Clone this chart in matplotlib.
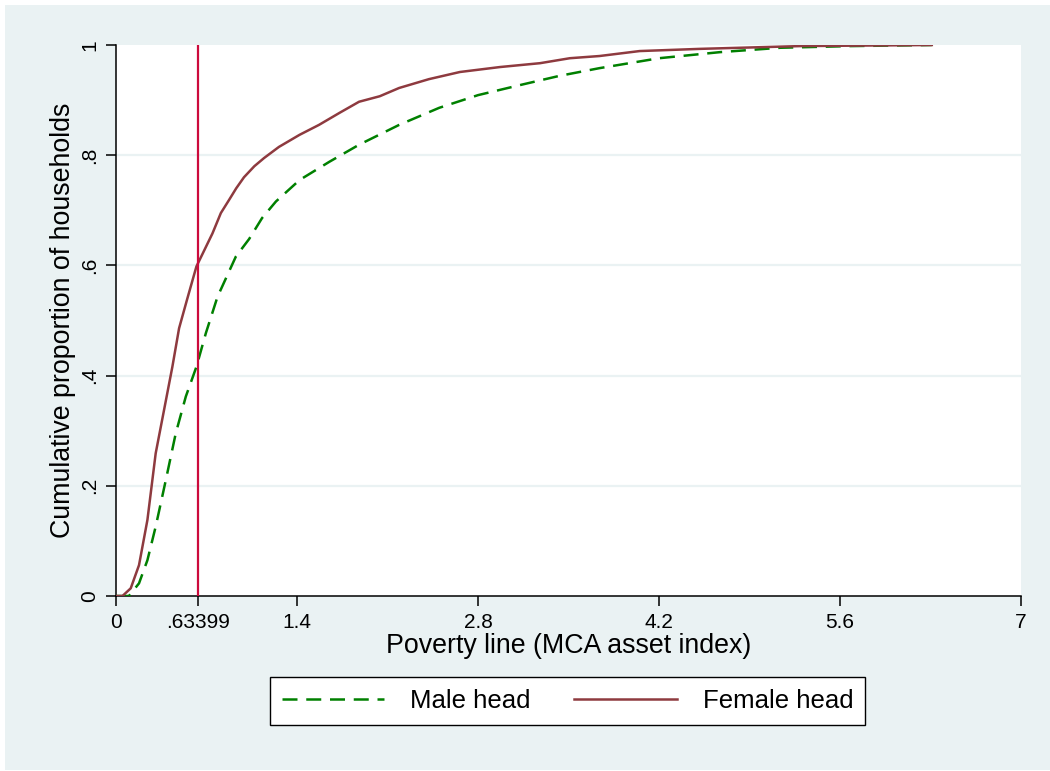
import numpy as np
import matplotlib.pyplot as plt
from matplotlib.patches import Rectangle

plt.rcParams['font.family'] = ['Liberation Sans', 'DejaVu Sans']

# cumulative distribution
female_x = [0.0, 0.05, 0.114, 0.178, 0.243, 0.307, 0.372, 0.436, 0.488, 0.552, 0.622,
            0.746, 0.811, 0.875, 0.93, 0.99, 1.07, 1.146, 1.26, 1.42, 1.57, 1.73, 1.88,
            2.04, 2.19, 2.42, 2.66, 2.97, 3.28, 3.51, 3.74, 4.05, 4.52, 5.29, 6.31]
female_y = [0.0, 0.0, 0.014, 0.056, 0.138, 0.259, 0.338, 0.416, 0.486, 0.540, 0.598,
            0.658, 0.695, 0.719, 0.740, 0.760, 0.780, 0.795, 0.815, 0.837, 0.855, 0.877,
            0.897, 0.907, 0.922, 0.938, 0.951, 0.960, 0.967, 0.976, 0.980, 0.989, 0.993,
            0.998, 1.0]

male_x = [0.0, 0.10, 0.178, 0.243, 0.307, 0.385, 0.462, 0.540, 0.622, 0.695, 0.785,
          0.927, 1.03, 1.13, 1.237, 1.42, 1.65, 1.88, 2.19, 2.50, 2.80, 3.12, 3.43,
          3.74, 4.2, 4.67, 5.14, 5.68, 6.31]
male_y = [0.0, 0.0, 0.023, 0.065, 0.126, 0.21, 0.295, 0.362, 0.416, 0.477, 0.543,
          0.616, 0.648, 0.686, 0.716, 0.755, 0.788, 0.819, 0.855, 0.886, 0.909, 0.927,
          0.944, 0.958, 0.976, 0.987, 0.995, 0.998, 1.0]

poverty_line = 0.63399
x_ticks = [0, poverty_line, 1.4, 2.8, 4.2, 5.6, 7]
x_tick_labels = ['0', '.63399', '1.4', '2.8', '4.2', '5.6', '7']
y_ticks = [0, 0.2, 0.4, 0.6, 0.8, 1]
y_tick_labels = ['0', '.2', '.4', '.6', '.8', '1']

W, H = 1050, 771
bg = '#EAF2F3'
fig = plt.figure(figsize=(W / 100, H / 100), dpi=100, facecolor='white')
fig.patches.append(Rectangle((5 / W, 1 / H), 1 - 5 / W, 1 - 6 / H,
                             transform=fig.transFigure, facecolor=bg,
                             edgecolor='none', zorder=-10))

ax = fig.add_axes([116 / W, (H - 596) / H, (1021 - 116) / W, (596 - 45) / H])
ax.set_zorder(2)
ax.set_facecolor('white')
ax.set_xlim(0, 7)
ax.set_ylim(0, 1)

for yv in y_ticks[1:-1]:
    ax.axhline(yv, color=bg, lw=1.6, zorder=1)

ax.plot(male_x, male_y, color='#008000', lw=1.8, linestyle=(0, (6, 3.5)),
        label='Male head', zorder=3)
ax.plot(female_x, female_y, color='#8E3A3F', lw=1.8, label='Female head', zorder=4)
ax.axvline(poverty_line, color='#CC0A3C', lw=1.6, zorder=5)

for s in ['top', 'right']:
    ax.spines[s].set_visible(False)
for s in ['left', 'bottom']:
    ax.spines[s].set_linewidth(1.1)

ax.set_xticks(x_ticks)
ax.set_xticklabels(x_tick_labels, fontsize=15)
ax.set_yticks(y_ticks)
ax.set_yticklabels(y_tick_labels, fontsize=15, rotation=90, va='center')
ax.tick_params(direction='out', length=7, width=1.1, pad=5)
ax.set_xlabel('Poverty line (MCA asset index)', fontsize=19.3, labelpad=1)
ax.set_ylabel('Cumulative proportion of households', fontsize=19.3, labelpad=3)

leg = fig.legend(loc='center', bbox_to_anchor=(567.5 / W, 1 - 701 / H), ncol=2,
                 fontsize=18.5, frameon=True, fancybox=False, edgecolor='black',
                 facecolor='white', framealpha=1,
                 handlelength=4.0, handletextpad=1.0, columnspacing=1.7,
                 borderpad=0.45)
leg.get_frame().set_linewidth(1.0)

fig.savefig('out.png', dpi=100, facecolor=fig.get_facecolor())
